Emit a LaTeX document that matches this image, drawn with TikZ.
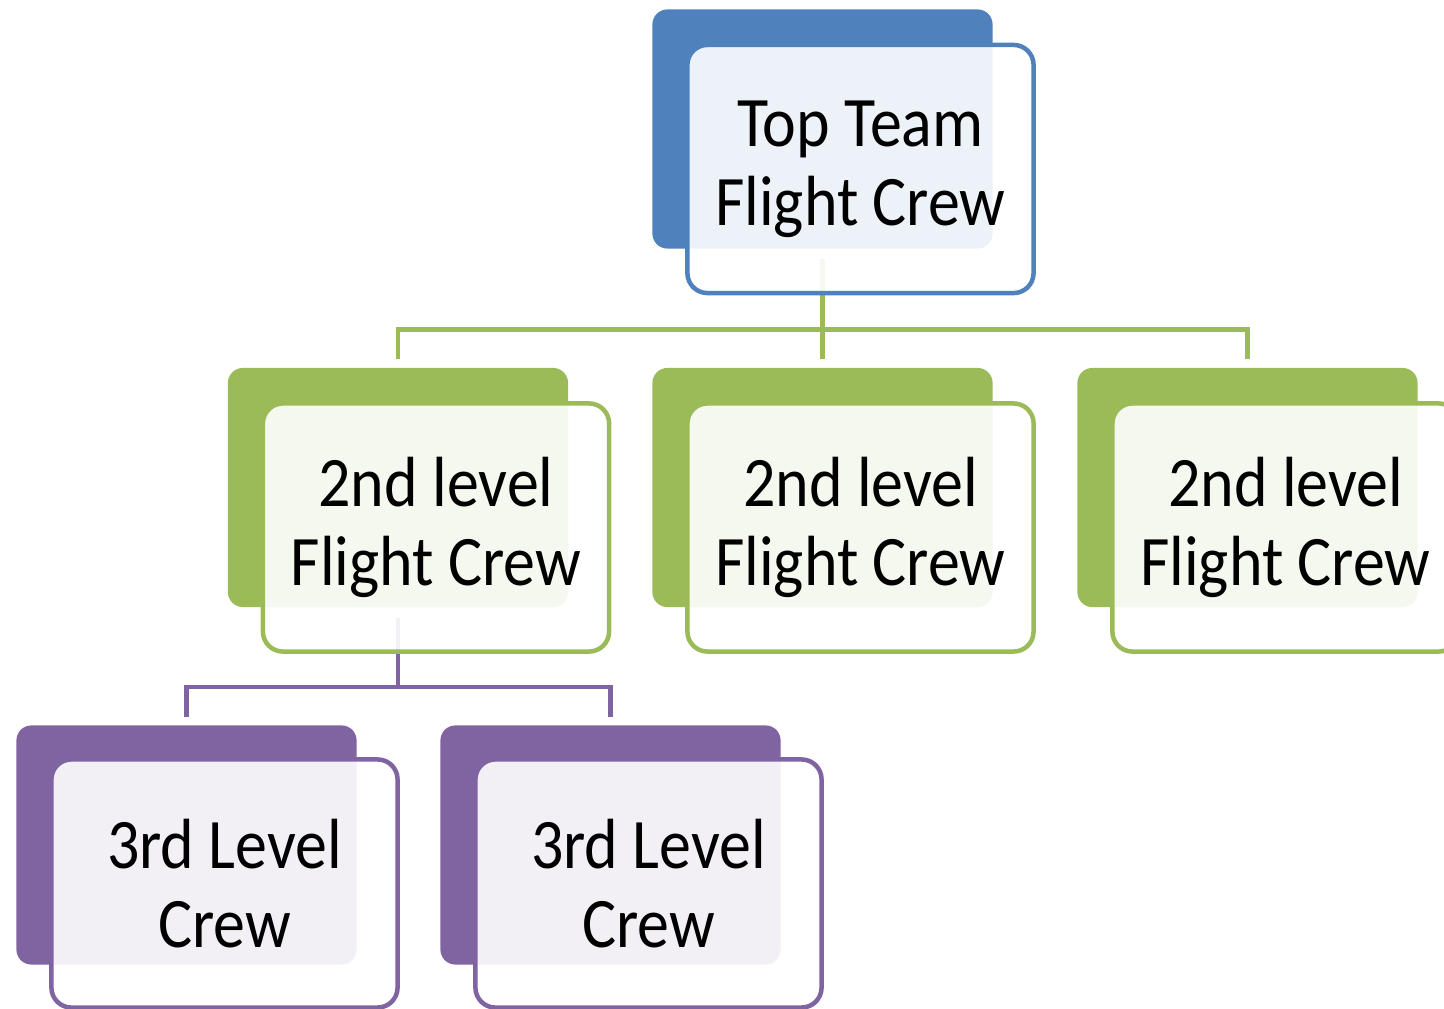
\documentclass[tikz,border=0pt]{standalone}
\usepackage{fontspec}
\setmainfont{Carlito}[FakeStretch=0.9]
\definecolor{blueacc}{HTML}{4F81BD}
\definecolor{greenacc}{HTML}{9BBB59}
\definecolor{purpleacc}{HTML}{8064A2}
\begin{document}
\begin{tikzpicture}[x=0.01cm, y=-0.01cm,
    back/.style={rectangle, rounded corners=0.15cm, inner sep=0pt,
      minimum width=3.4cm, minimum height=2.39cm},
    card/.style={rectangle, rounded corners=0.2cm, line width=0.045cm,
      fill=white, fill opacity=0.9, text opacity=1, inner sep=0pt,
      minimum width=3.46cm, minimum height=2.48cm, align=center,
      font=\fontsize{0.71cm}{0.79cm}\selectfont}]
      \useasboundingbox (0,0) rectangle (1444,1009);
      \clip (0,0) rectangle (1444,1009);
      \begin{scope}[every node/.style={back}]
        \node[fill=blueacc] (topbk) at (822.5, 129) {};
        \node[fill=greenacc] (s1bk) at (398, 487.5) {};
        \node[fill=greenacc] (s2bk) at (822.5, 487.5) {};
        \node[fill=greenacc] (s3bk) at (1247.5, 487.5) {};
        \node[fill=purpleacc] (t1bk) at (186.5, 845) {};
        \node[fill=purpleacc] (t2bk) at (610.5, 845) {};
      \end{scope}
      \begin{scope}[line width=0.045cm, shorten <=0.1cm, shorten >=0.08cm]
        \path[draw=greenacc] (topbk.south) -- ++(0,80) -| (s1bk.north);
        \path[draw=greenacc] (topbk.south) -- (s2bk.north);
        \path[draw=greenacc] (topbk.south) -- ++(0,80) -| (s3bk.north);
        \path[draw=purpleacc] (s1bk.south) -- ++(0,79) -| (t1bk.north);
        \path[draw=purpleacc] (s1bk.south) -- ++(0,79) -| (t2bk.north);
      \end{scope}
      \begin{scope}[every node/.style={card}]
        \node[draw=blueacc] (top) at ([shift={(38,40)}]topbk.center) {Top Team\\Flight Crew};
        \node[draw=greenacc] (s1) at ([shift={(38,40)}]s1bk.center) {2nd level\\Flight Crew};
        \node[draw=greenacc] (s2) at ([shift={(38,40)}]s2bk.center) {2nd level\\Flight Crew};
        \node[draw=greenacc] (s3) at ([shift={(38,40)}]s3bk.center) {2nd level\\Flight Crew};
        \node[draw=purpleacc] (t1) at ([shift={(38,38.5)}]t1bk.center) {3rd Level\\Crew};
        \node[draw=purpleacc] (t2) at ([shift={(38,38.5)}]t2bk.center) {3rd Level\\Crew};
      \end{scope}
    \end{tikzpicture}
\end{document}
